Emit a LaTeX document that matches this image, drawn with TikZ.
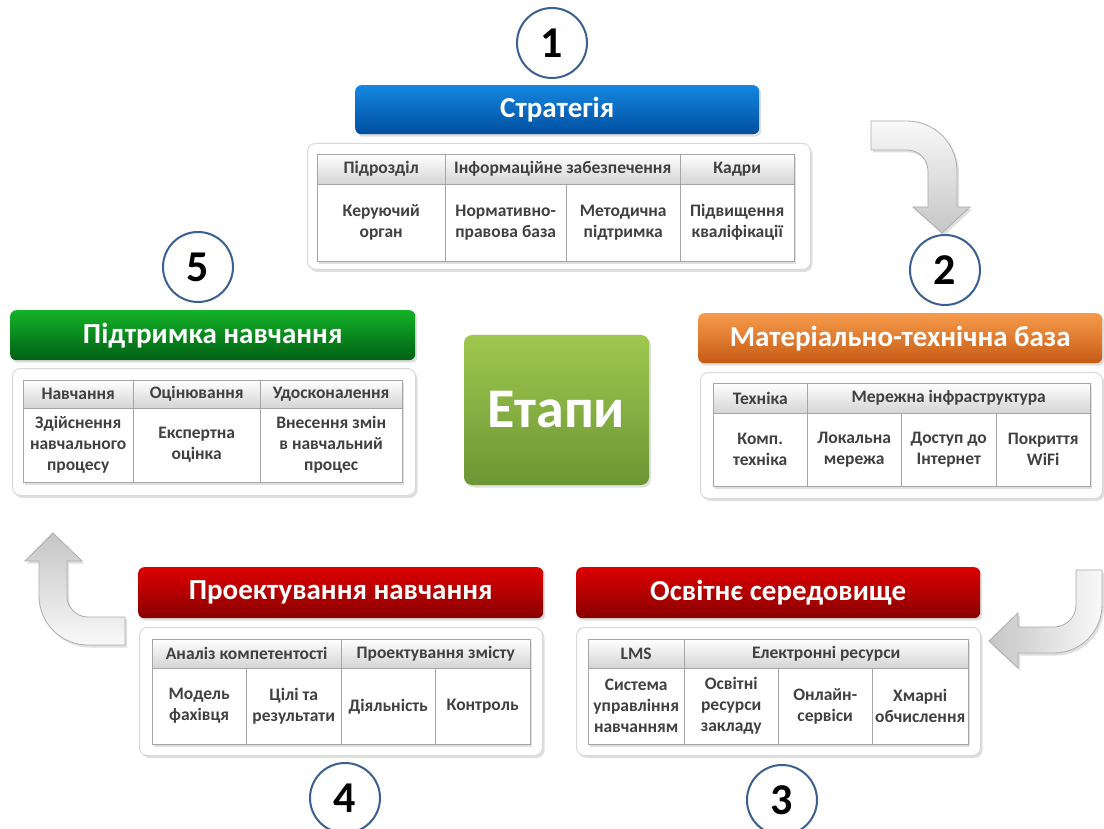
\documentclass[tikz,border=0pt]{standalone}
\usepackage{fontspec}
\setmainfont{Carlito}
\usetikzlibrary{shadows,positioning}

\definecolor{ringblue}{RGB}{58,95,145}
\definecolor{celltext}{RGB}{64,64,64}
\definecolor{cellline}{RGB}{165,165,165}
\definecolor{headgray}{RGB}{212,212,212}
\definecolor{blueA}{RGB}{20,135,225}
\definecolor{blueB}{RGB}{0,78,158}
\definecolor{orangeA}{RGB}{247,155,75}
\definecolor{orangeB}{RGB}{198,90,20}
\definecolor{greenA}{RGB}{20,178,40}
\definecolor{greenB}{RGB}{0,96,20}
\definecolor{redA}{RGB}{222,0,0}
\definecolor{redB}{RGB}{135,0,0}
\definecolor{leafA}{RGB}{158,200,78}
\definecolor{leafB}{RGB}{108,150,52}

\begin{document}
\begin{tikzpicture}[x=1pt, y=-1pt,
    softshadow/.style={drop shadow={opacity=0.25, shadow xshift=2pt, shadow yshift=-2.5pt}},
    ring/.style={circle, draw=ringblue, line width=2pt, fill=white, minimum size=70pt, inner sep=0pt, font=\bfseries\fontsize{44}{44}\selectfont},
    titlebar/.style={rectangle, rounded corners=6pt, anchor=north west, text=white, font=\bfseries\fontsize{29}{29}\selectfont, softshadow},
    panel/.style={rectangle, rounded corners=8pt, anchor=north west, draw=gray!30, line width=1pt, fill=white, softshadow},
    headcell/.style={rectangle, anchor=north west, draw=cellline, top color=white, bottom color=headgray, inner sep=0pt, text=celltext, font=\bfseries\fontsize{17.5}{20}\selectfont, softshadow},
    bodycell/.style={rectangle, anchor=north west, draw=cellline, fill=white, inner sep=0pt, align=center, text=celltext, font=\bfseries\fontsize{17.5}{21}\selectfont, softshadow},
    turnarrow/.style={draw=gray!65, line width=0.8pt, softshadow}
]
    \useasboundingbox (0,0) rectangle (1104,829);
    \fill[white] (0,0) rectangle (1104,829);

    % Stage 1
    \node[ring] (c1) at (552,43) {1};
    \node[titlebar, top color=blueA, bottom color=blueB, minimum width=404pt, minimum height=49pt] (t1) at (355,85) {Стратегія};
    \node[panel, minimum width=503pt, minimum height=126pt] (p1) at (307,143) {};
    \node[headcell, minimum width=128pt, minimum height=30pt] (h1a) at (317,154) {Підрозділ};
    \node[headcell, minimum width=235pt, minimum height=30pt] (h1b) at (445,154) {Інформаційне забезпечення};
    \node[headcell, minimum width=114pt, minimum height=30pt] (h1c) at (680,154) {Кадри};
    \node[bodycell, minimum width=128pt, minimum height=77pt] (b1a) at (317,184) {Керуючий\\орган};
    \node[bodycell, minimum width=121pt, minimum height=77pt] (b1b) at (445,184) {Нормативно-\\правова база};
    \node[bodycell, minimum width=114pt, minimum height=77pt] (b1c) at (566,184) {Методична\\підтримка};
    \node[bodycell, minimum width=114pt, minimum height=77pt] (b1d) at (680,184) {Підвищення\\кваліфікації};

    % Stage 2
    \node[ring] (c2) at (945,270) {2};
    \node[titlebar, top color=orangeA, bottom color=orangeB, minimum width=404pt, minimum height=50pt] (t2) at (698,313) {Матеріально-технічна база};
    \node[panel, minimum width=402pt, minimum height=126pt] (p2) at (700,372) {};
    \node[headcell, minimum width=94pt, minimum height=30pt] (h2a) at (713,383) {Техніка};
    \node[headcell, minimum width=283pt, minimum height=30pt] (h2b) at (807,383) {Мережна інфраструктура};
    \node[bodycell, minimum width=94pt, minimum height=73pt] (b2a) at (713,413) {Комп.\\техніка};
    \node[bodycell, minimum width=94pt, minimum height=73pt] (b2b) at (807,413) {Локальна\\мережа};
    \node[bodycell, minimum width=95pt, minimum height=73pt] (b2c) at (901,413) {Доступ до\\Інтернет};
    \node[bodycell, minimum width=94pt, minimum height=73pt] (b2d) at (996,413) {Покриття\\WiFi};

    % Stage 3
    \node[ring] (c3) at (782,800) {3};
    \node[titlebar, top color=redA, bottom color=redB, minimum width=404pt, minimum height=51pt] (t3) at (576,567) {Освітнє середовище};
    \node[panel, minimum width=404pt, minimum height=128pt] (p3) at (576,627) {};
    \node[headcell, minimum width=96pt, minimum height=29pt] (h3a) at (588,639) {LMS};
    \node[headcell, minimum width=284pt, minimum height=29pt] (h3b) at (684,639) {Електронні ресурси};
    \node[bodycell, minimum width=96pt, minimum height=76pt] (b3a) at (588,668) {Система\\управління\\навчанням};
    \node[bodycell, minimum width=94pt, minimum height=76pt] (b3b) at (684,668) {Освітні\\ресурси\\закладу};
    \node[bodycell, minimum width=94pt, minimum height=76pt] (b3c) at (778,668) {Онлайн-\\сервіси};
    \node[bodycell, minimum width=96pt, minimum height=76pt] (b3d) at (872,668) {Хмарні\\обчислення};

    % Stage 4
    \node[ring] (c4) at (345,798) {4};
    \node[titlebar, top color=redA, bottom color=redB, minimum width=405pt, minimum height=51pt] (t4) at (138,567) {Проектування навчання};
    \node[panel, minimum width=403pt, minimum height=128pt] (p4) at (139,627) {};
    \node[headcell, minimum width=189pt, minimum height=29pt] (h4a) at (152,639) {Аналіз компетентості};
    \node[headcell, minimum width=189pt, minimum height=29pt] (h4b) at (341,639) {Проектування змісту};
    \node[bodycell, minimum width=94pt, minimum height=76pt] (b4a) at (152,668) {Модель\\фахівця};
    \node[bodycell, minimum width=95pt, minimum height=76pt] (b4b) at (246,668) {Цілі та\\результати};
    \node[bodycell, minimum width=94pt, minimum height=76pt] (b4c) at (341,668) {Діяльність};
    \node[bodycell, minimum width=95pt, minimum height=76pt] (b4d) at (435,668) {Контроль};

    % Stage 5
    \node[ring] (c5) at (198,267) {5};
    \node[titlebar, top color=greenA, bottom color=greenB, minimum width=405pt, minimum height=50pt] (t5) at (10,310) {Підтримка навчання};
    \node[panel, minimum width=403pt, minimum height=127pt] (p5) at (12,368) {};
    \node[headcell, minimum width=110pt, minimum height=28pt] (h5a) at (23,380) {Навчання};
    \node[headcell, minimum width=127pt, minimum height=28pt] (h5b) at (133,380) {Оцінювання};
    \node[headcell, minimum width=142pt, minimum height=28pt] (h5c) at (260,380) {Удосконалення};
    \node[bodycell, minimum width=110pt, minimum height=74pt] (b5a) at (23,408) {Здійснення\\навчального\\процесу};
    \node[bodycell, minimum width=127pt, minimum height=74pt] (b5b) at (133,408) {Експертна\\оцінка};
    \node[bodycell, minimum width=142pt, minimum height=74pt] (b5c) at (260,408) {Внесення змін\\в навчальний\\процес};

    % centre
    \node[rectangle, rounded corners=8pt, top color=leafA, bottom color=leafB, minimum width=185pt, minimum height=150pt, text=white, font=\bfseries\fontsize{56}{56}\selectfont, softshadow] (stages) at (556.5,410) {Етапи};

    % turning arrows
    \draw[turnarrow, top color=gray!5, bottom color=gray!45]
        (871,121) -- (907,121) arc[start angle=-90, end angle=0, radius=50]
        -- (957,207) -- (970,207) -- (942,233) -- (913,207) -- (928,207) -- (928,171)
        arc[start angle=0, end angle=-90, radius=21] -- (871,150) -- cycle;
    \draw[turnarrow, left color=gray!45, right color=gray!5]
        (1076,570) -- (1102,570) -- (1102,605) arc[start angle=0, end angle=90, radius=48]
        -- (1018,653) -- (1018,668) -- (989,641) -- (1018,613) -- (1018,627) -- (1054,627)
        arc[start angle=90, end angle=0, radius=22] -- cycle;
    \draw[turnarrow, top color=gray!45, bottom color=gray!5]
        (125,617) -- (88,617) arc[start angle=90, end angle=180, radius=21]
        -- (67,561) -- (82,561) -- (53,533) -- (25,561) -- (39,561) -- (39,596)
        arc[start angle=180, end angle=90, radius=49] -- (125,645) -- cycle;
\end{tikzpicture}
\end{document}
